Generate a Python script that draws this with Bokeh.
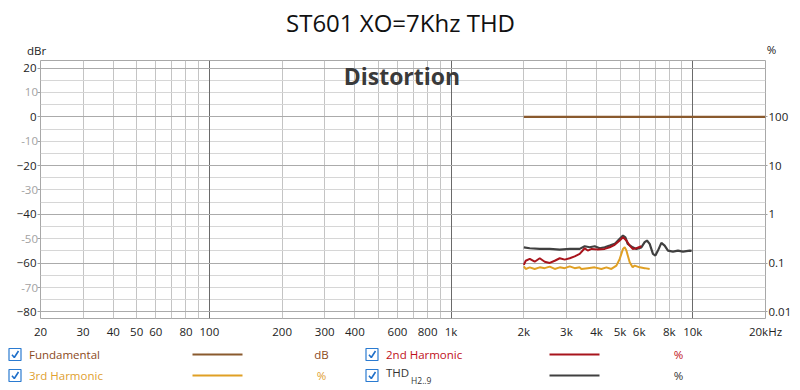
from bokeh.plotting import figure
from bokeh.models import Range1d, LogAxis, FixedTicker, Grid, Label, LogScale
from bokeh.layouts import column, row
from bokeh.embed import file_html
from bokeh.resources import INLINE
from bokeh.core.properties import value

FONT = "Open Sans"

# ---------------- data ----------------
title_text = "ST601 XO=7Khz THD"

fund_f = [2000, 20000]
fund_db = [0, 0]

thd_f = [2000, 2116, 2327, 2560, 2816, 3097, 3406, 3572, 3746, 3929, 4121, 4322, 4533, 4754,
         4986, 5146, 5264, 5380, 5642, 5844, 6128, 6325, 6464, 6633, 6844, 7004, 7178, 7416,
         7652, 7897, 8281, 8686, 9110, 9710, 9898]
thd_pct = [0.211, 0.202, 0.196, 0.196, 0.190, 0.196, 0.196, 0.222, 0.212, 0.222, 0.202, 0.212,
           0.229, 0.248, 0.315, 0.367, 0.339, 0.248, 0.211, 0.196, 0.211, 0.269, 0.291, 0.248,
           0.155, 0.143, 0.181, 0.260, 0.229, 0.181, 0.172, 0.181, 0.172, 0.181, 0.178]

h2_f = [2000, 2036, 2116, 2218, 2327, 2440, 2560, 2685, 2816, 2953, 3097, 3247, 3406, 3572,
        3676, 3818, 4042, 4322, 4533, 4754, 4986, 5146, 5314, 5484, 5642, 5844, 6128]
h2_pct = [0.092, 0.112, 0.122, 0.107, 0.126, 0.107, 0.101, 0.112, 0.126, 0.118, 0.126, 0.138,
          0.155, 0.202, 0.181, 0.196, 0.190, 0.196, 0.211, 0.237, 0.291, 0.339, 0.291, 0.229,
          0.196, 0.202, 0.222]

h3_f = [2000, 2036, 2116, 2218, 2327, 2440, 2560, 2685, 2816, 2953, 3097, 3247, 3406, 3461,
        3676, 3929, 4188, 4392, 4605, 4831, 4986, 5146, 5228, 5314, 5484, 5642, 5750, 6030,
        6325, 6633]
h3_pct = [0.086, 0.076, 0.082, 0.076, 0.082, 0.079, 0.085, 0.076, 0.082, 0.079, 0.086, 0.079,
          0.082, 0.076, 0.079, 0.082, 0.076, 0.082, 0.076, 0.089, 0.122, 0.196, 0.211, 0.181,
          0.104, 0.082, 0.089, 0.082, 0.079, 0.076]

x_grid_ticks = [20, 30, 40, 50, 60, 70, 80, 90, 100, 200, 300, 400, 500, 600, 700, 800, 900,
                1000, 2000, 3000, 4000, 5000, 6000, 7000, 8000, 9000, 10000, 20000]
x_tick_labels = {20: "20", 30: "30", 40: "40", 50: "50", 60: "60", 80: "80", 100: "100",
                 200: "200", 300: "300", 400: "400", 600: "600", 800: "800", 1000: "1k",
                 2000: "2k", 3000: "3k", 4000: "4k", 5000: "5k", 6000: "6k", 8000: "8k",
                 10000: "10k", 20000: "20kHz"}
db_major = [20, 0, -20, -40, -60, -80]
db_minor = [10, -10, -30, -50, -70]
pct_ticks = [0.01, 0.1, 1, 10, 100]
pct_labels = ["0.01", "0.1", "1", "10", "100"]

legend_names = ["Fundamental", "2nd Harmonic", "3rd Harmonic", "THD"]
legend_sub = "H2..9"
legend_units = ["dB", "%", "%", "%"]
left_unit = "dBr"
right_unit = "%"
overlay_title = "Distortion"

# ---------------- styles ----------------
C_FUND = "#8a5a2e"
C_H2 = "#a8141c"
C_H3 = "#e0a024"
C_THD = "#404040"
T_FUND = "#8b4a1c"
T_H2 = "#c0101a"
T_H3 = "#e0a030"
T_THD = "#333333"
W = 800
LB = 40                     # left border of the main plot
Y_TOP, Y_BOT = 23.1, -82.7


def strip(height, width=W):
    f = figure(width=width, height=height, x_range=Range1d(0, width),
               y_range=Range1d(height, 0), output_backend="svg", toolbar_location=None,
               x_axis_location=None, y_axis_location=None,
               min_border_left=0, min_border_right=0, min_border_top=0, min_border_bottom=0)
    f.frame_align = False
    f.grid.visible = False
    f.outline_line_color = None
    return f


# ---------------- header strip (title + unit captions) ----------------
HH = 60
h = strip(HH)
h.text([400], [22], text=[title_text], text_font=value(FONT), text_font_size="24px",
       text_color="#111111", text_align="center", text_baseline="middle")
h.text([36, 771], [50, 49], text=[left_unit, right_unit], text_font=value(FONT),
       text_font_size="11.5px", text_color="#222222", text_align="center",
       text_baseline="middle")

# ---------------- main plot ----------------
p = figure(x_axis_type="log", x_range=Range1d(20, 20000), y_range=Range1d(Y_BOT, Y_TOP),
           frame_width=725, frame_height=258, output_backend="svg", toolbar_location=None,
           min_border_left=LB, min_border_right=35, min_border_top=0, min_border_bottom=22,
           background_fill_color="white", border_fill_color=None)
p.frame_align = False
p.outline_line_color = "#a8a8a8"
p.margin = (0, 0, 0, -LB)

# x axis
xa = p.xaxis[0]
xa.ticker = FixedTicker(ticks=x_grid_ticks)
xa.major_label_overrides = {t: x_tick_labels.get(t, "") for t in x_grid_ticks}
xa.major_tick_out = 0
xa.major_tick_in = 0
xa.minor_tick_out = 0
xa.minor_tick_in = 0
xa.axis_line_color = None
xa.major_label_standoff = 5
xa.major_label_text_font = FONT
xa.major_label_text_font_size = "11.5px"
xa.major_label_text_color = "#222222"

# left axis (dark labels on the 20 dB steps, bare ticks on the others)
ya = p.yaxis[0]
ya.ticker = FixedTicker(ticks=db_major + db_minor)
ya.major_label_overrides = {t: "" for t in db_minor}
ya.major_tick_out = 3
ya.major_tick_in = 0
ya.minor_tick_out = 0
ya.minor_tick_in = 0
ya.major_tick_line_color = "#a0a0a0"
ya.axis_line_color = None
ya.major_label_standoff = 1
ya.major_label_text_font = FONT
ya.major_label_text_font_size = "11.5px"
ya.major_label_text_color = "#222222"

# right % axis (log), aligned so that 100 % = 0 dB
p.extra_y_ranges = {"pct": Range1d(100 * 10 ** (Y_BOT / 20), 100 * 10 ** (Y_TOP / 20))}
p.extra_y_scales = {"pct": LogScale()}
ra = LogAxis(y_range_name="pct", ticker=FixedTicker(ticks=pct_ticks))
ra.major_label_overrides = dict(zip(pct_ticks, pct_labels))
ra.major_tick_out = 2
ra.major_tick_in = 0
ra.minor_tick_out = 0
ra.minor_tick_in = 0
ra.major_tick_line_color = "#a0a0a0"
ra.axis_line_color = None
ra.major_label_standoff = 1
ra.major_label_text_font = FONT
ra.major_label_text_font_size = "11.5px"
ra.major_label_text_color = "#222222"
p.add_layout(ra, "right")

# grids
p.xgrid.ticker = FixedTicker(ticks=x_grid_ticks)
p.xgrid.grid_line_color = "#c4c4c4"
p.ygrid.ticker = FixedTicker(ticks=list(range(-80, 21, 5)))
p.ygrid.grid_line_color = "#d6d6d6"
p.add_layout(Grid(dimension=0, ticker=FixedTicker(ticks=[100, 1000, 10000]),
                  grid_line_color="#6a6a6a"))
p.add_layout(Grid(dimension=1, ticker=FixedTicker(ticks=db_major),
                  grid_line_color="#ababab"))

# series
p.line(thd_f, thd_pct, y_range_name="pct", line_color=C_THD, line_width=2.2)
p.line(h2_f, h2_pct, y_range_name="pct", line_color=C_H2, line_width=2.0)
p.line(h3_f, h3_pct, y_range_name="pct", line_color=C_H3, line_width=2.0)
p.line(fund_f, fund_db, line_color=C_FUND, line_width=2.2)

p.add_layout(Label(x=626, y=16.6, text=overlay_title, text_align="center",
                   text_baseline="middle", text_font=FONT, text_font_size="23px",
                   text_font_style="bold", text_color="#3a3a3a"))

# grey labels of the odd 10 dB steps: a strip under the plot's left border,
# sharing the plot's dB range
g = figure(width=LB, height=280, x_range=Range1d(0, LB), y_range=p.y_range,
           output_backend="svg", toolbar_location=None,
           x_axis_location=None, y_axis_location=None,
           min_border_left=0, min_border_right=0, min_border_top=0, min_border_bottom=22,
           background_fill_color=None, border_fill_color=None)
g.frame_align = False
g.grid.visible = False
g.outline_line_color = None
g.text([37.5] * len(db_minor), db_minor, text=[str(v) for v in db_minor],
       text_color="#a2a2a2", text_font=value(FONT), text_font_size="11.5px",
       text_baseline="middle", text_align="right")

# ---------------- legend strip ----------------
H2 = 50
q = strip(H2)

col_x = [0, 357]          # column offsets (px)
row_y = [13, 34]          # row centres (px)
slots = [(0, 0), (1, 0), (0, 1), (1, 1)]
line_cols = [C_FUND, C_H2, C_H3, C_THD]
text_cols = [T_FUND, T_H2, T_H3, T_THD]

bx, by, cxs, cys, tx, ty, sx0, sx1, sy, ux = [], [], [], [], [], [], [], [], [], []
for i, (c, r) in enumerate(slots):
    ox, oy = col_x[c], row_y[r]
    bx.append(ox + 14.5)
    by.append(oy)
    cxs.append([ox + 11.5, ox + 13.8, ox + 18])
    cys.append([oy + 0.2, oy + 3, oy - 3.5])
    tx.append(ox + 28.5)
    ty.append(oy - 3 if i == 3 else oy)
    sx0.append(ox + 192)
    sx1.append(ox + 242)
    sy.append(oy)
    ux.append(ox + 321)

q.rect(bx, by, width=12, height=12, fill_color="white", line_color="#2b7bd1", line_width=1.2)
q.multi_line(cxs, cys, line_color="#1f6fc9", line_width=1.6)
q.text(tx, ty, text=legend_names, text_color=text_cols, text_font=value(FONT),
       text_font_size="11.5px", text_baseline="middle", text_align="left")
q.text([tx[3] + 25], [row_y[1] + 5], text=[legend_sub], text_color=T_THD,
       text_font=value(FONT), text_font_size="8.5px", text_baseline="middle",
       text_align="left")
q.segment(sx0, sy, sx1, sy, line_color=line_cols, line_width=2.2)
q.text(ux, sy, text=legend_units, text_color=text_cols, text_font=value(FONT),
       text_font_size="11.5px", text_baseline="middle", text_align="center")

layout = column(h, row(g, p, spacing=0), q, spacing=0)
open("out.html", "w").write(file_html(layout, INLINE))
